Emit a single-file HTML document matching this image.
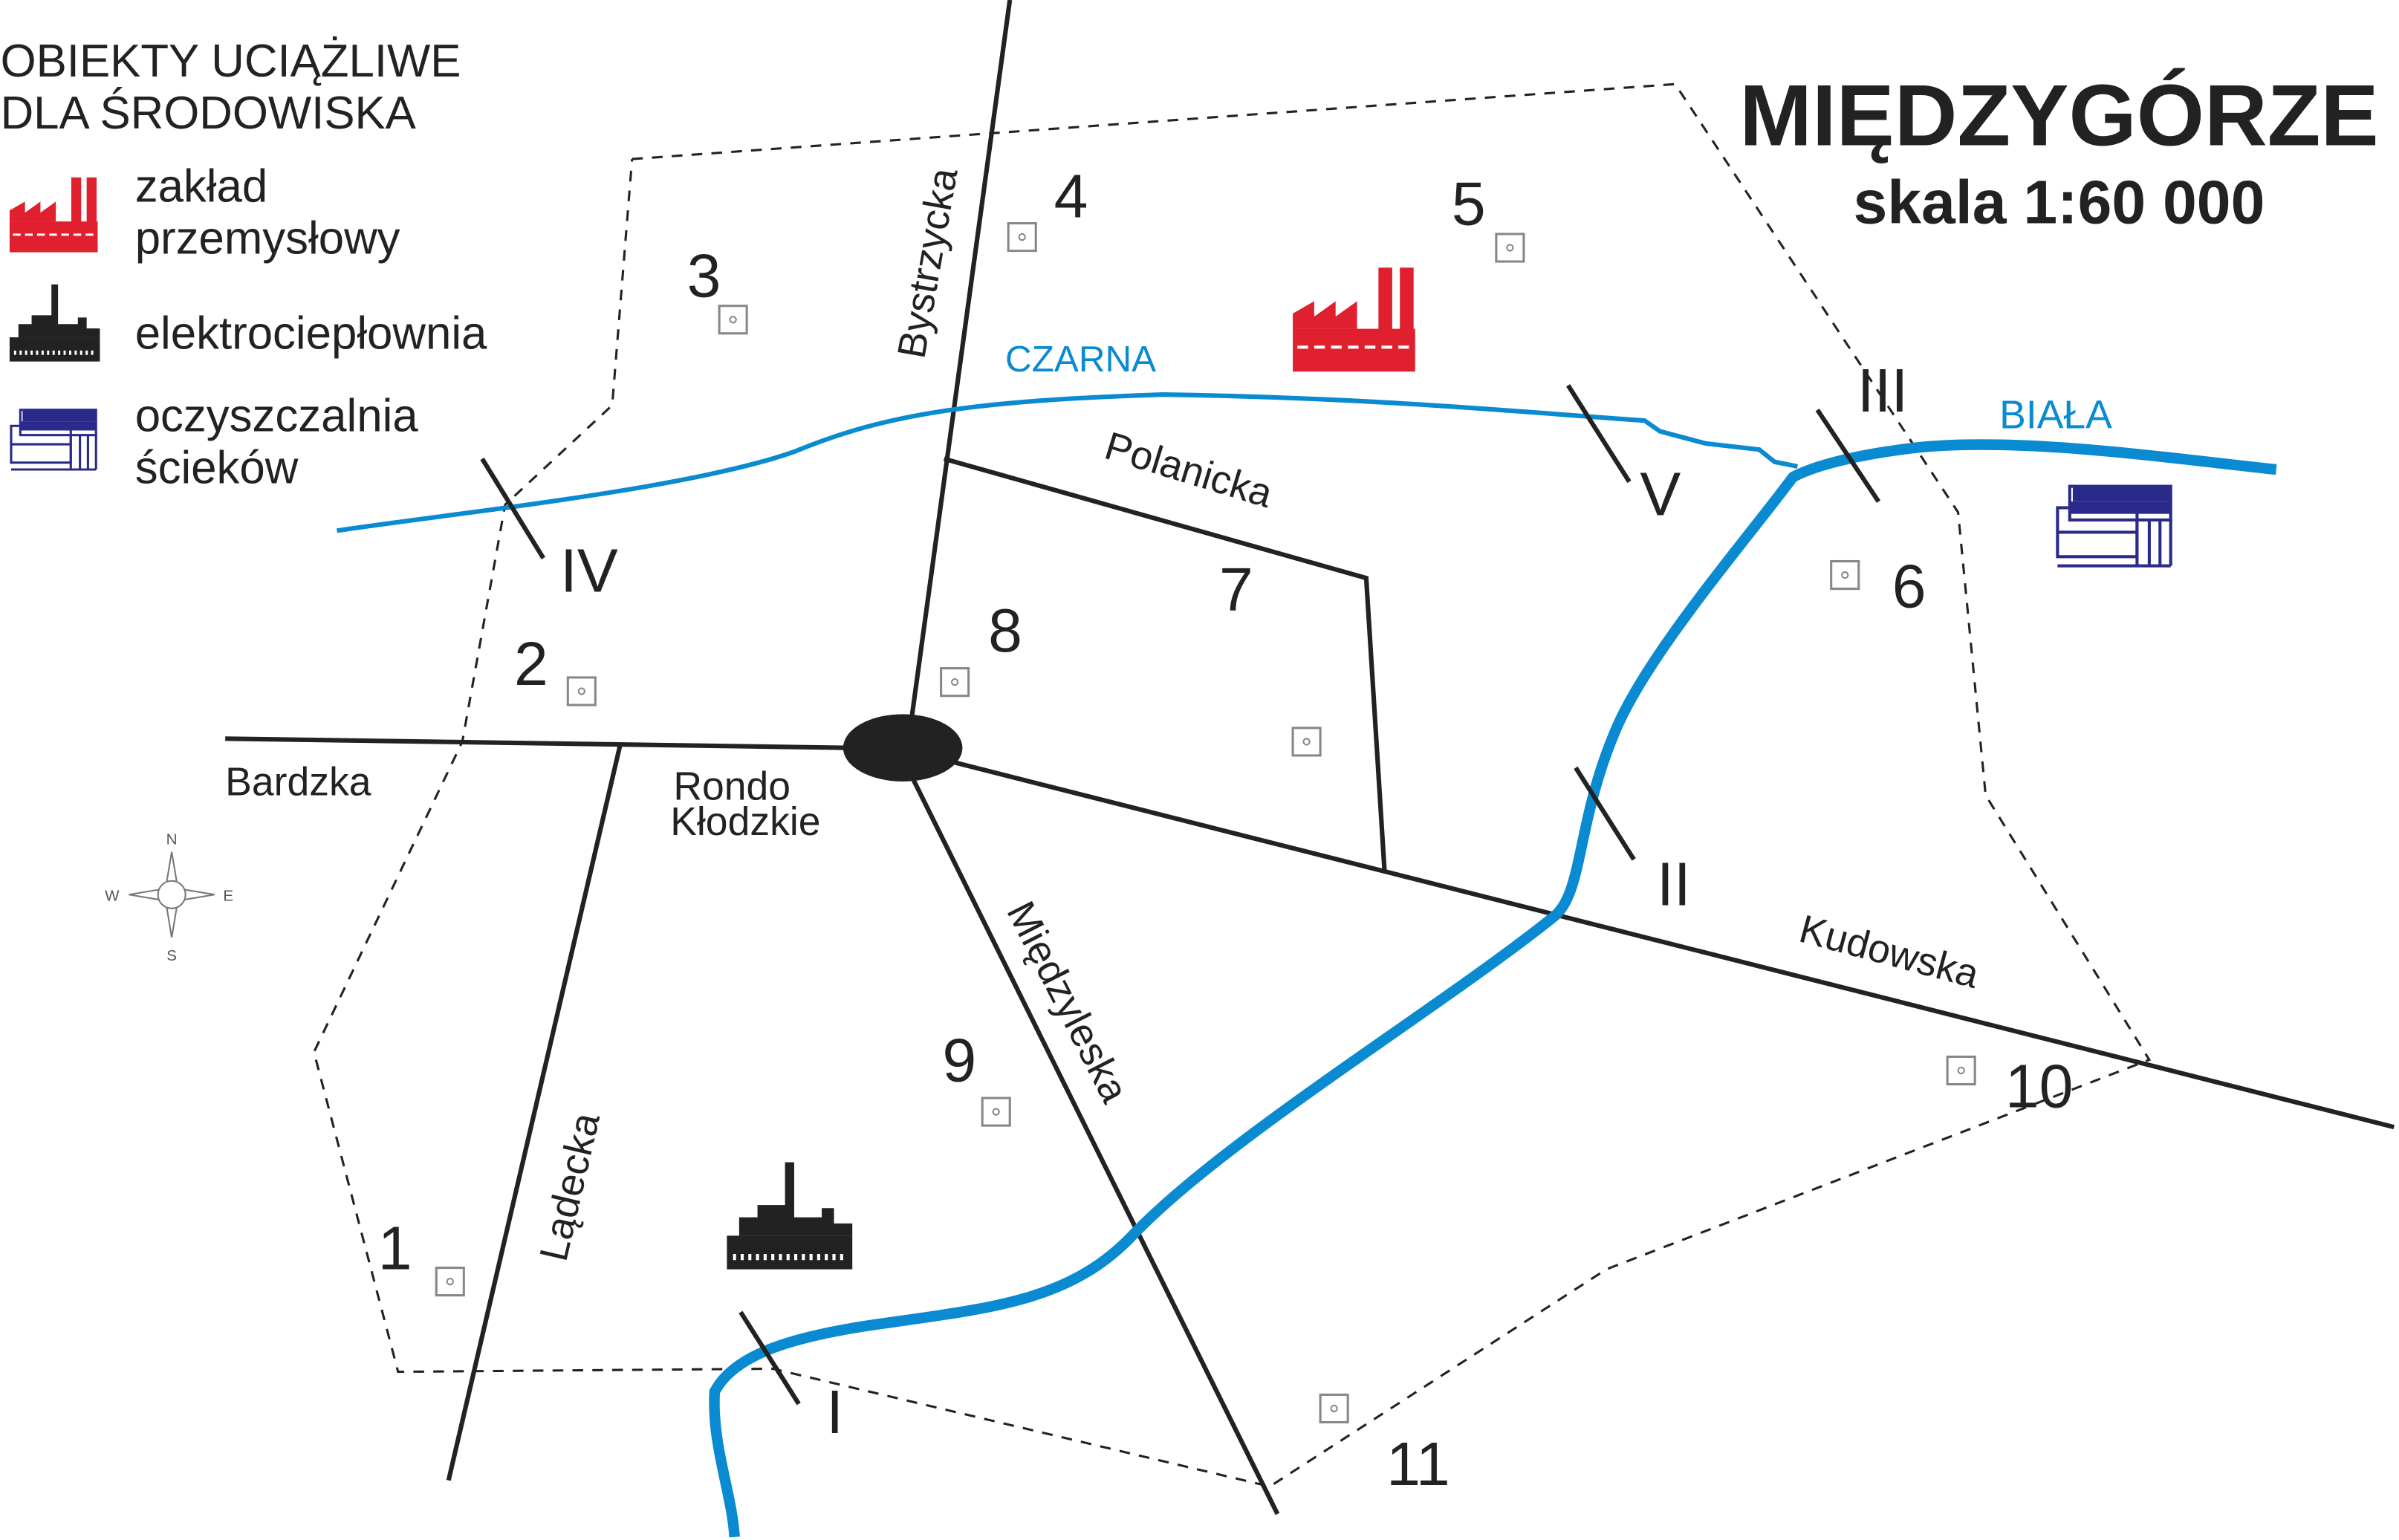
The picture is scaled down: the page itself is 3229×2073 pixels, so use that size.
<!DOCTYPE html>
<html><head><meta charset="utf-8"><style>
html,body{margin:0;padding:0;background:#fff}
svg{display:block}
text{font-family:"Liberation Sans",sans-serif}
</style></head><body>
<svg width="3229" height="2073" viewBox="0 0 1568 1007" xmlns="http://www.w3.org/2000/svg">
<defs>
<g id="sq"><rect x="-9" y="-9" width="18" height="18" fill="#fff" stroke="#888" stroke-width="1.5"/><circle r="2" fill="none" stroke="#888" stroke-width="1"/></g>
<g id="fac">
<rect x="0" y="40" width="80" height="28" fill="#e0202e"/>
<polygon points="0,40 0,30 14,22 14,32 28,22 28,32 42,22 42,40" fill="#e0202e"/>
<rect x="56" y="0" width="9" height="42" fill="#e0202e"/><rect x="70" y="0" width="9" height="42" fill="#e0202e"/>
<line x1="3" y1="52" x2="78" y2="52" stroke="#fff" stroke-width="2" stroke-dasharray="7 4"/>
</g>
<g id="plant">
<rect x="0" y="14" width="52" height="32" fill="#fff" stroke="#2a2a8a" stroke-width="2"/>
<rect x="10" y="0" width="64" height="10" fill="#2a2a8a"/>
<rect x="8" y="0" width="66" height="22" fill="none" stroke="#2a2a8a" stroke-width="2"/>
<rect x="8" y="10" width="66" height="8" fill="#2a2a8a"/>
<line x1="0" y1="30" x2="52" y2="30" stroke="#2a2a8a" stroke-width="2"/>
<line x1="52" y1="22" x2="52" y2="52" stroke="#2a2a8a" stroke-width="2"/>
<line x1="60" y1="22" x2="60" y2="52" stroke="#2a2a8a" stroke-width="2"/>
<line x1="67" y1="22" x2="67" y2="52" stroke="#2a2a8a" stroke-width="2"/>
<line x1="74" y1="22" x2="74" y2="52" stroke="#2a2a8a" stroke-width="2"/>
<line x1="0" y1="52" x2="74" y2="52" stroke="#2a2a8a" stroke-width="2"/>
</g>
<g id="pow">
<rect x="0" y="48" width="82" height="22" fill="#222"/>
<polygon points="8,48 8,36 20,36 20,28 38,28 38,0 44,0 44,28 44,36 62,36 62,30 70,30 70,40 82,40 82,48" fill="#222"/>
<line x1="4" y1="62" x2="78" y2="62" stroke="#fff" stroke-width="4" stroke-dasharray="2 3"/>
</g>
</defs>

<polyline points="413,104 1095,55 1280,335 1298,520 1405,693 1050,830 830,972 505,895 260,897 205,688 302,485 330,330 400,265 413,104" fill="none" stroke="#222" stroke-width="1.5" stroke-dasharray="7 6"/>

<g stroke="#222" stroke-width="3" fill="none">
<line x1="660" y1="0" x2="593" y2="490"/>
<line x1="147" y1="483" x2="555" y2="489"/>
<line x1="590" y1="490" x2="1565" y2="737"/>
<polyline points="617,300 893,378 905,570"/>
<line x1="405" y1="488" x2="293" y2="968"/>
<line x1="597" y1="510" x2="835" y2="990"/>
</g>
<ellipse cx="590" cy="489" rx="39" ry="22" fill="#222"/>

<path d="M220,347 C300,335 450,320 520,295 C580,270 640,262 760,258 C900,260 1000,270 1075,275 L1085,282 L1115,290 L1150,294 L1160,302 L1175,305" fill="none" stroke="#0a8ad0" stroke-width="3"/>
<path d="M1488,307 C1420,300 1320,285 1250,293 C1210,298 1185,305 1172,312 C1140,355 1075,430 1055,480 C1030,540 1035,585 1015,600 C940,660 800,745 740,808 C700,850 650,855 580,865 C520,873 480,885 467,910 C465,945 478,975 480,1005" fill="none" stroke="#0a8ad0" stroke-width="7"/>

<g stroke="#222" stroke-width="3">
<line x1="315" y1="300" x2="355" y2="365"/>
<line x1="1025" y1="252" x2="1065" y2="315"/>
<line x1="1188" y1="268" x2="1228" y2="328"/>
<line x1="1030" y1="502" x2="1068" y2="562"/>
<line x1="484" y1="858" x2="522" y2="918"/>
</g>
<g font-size="40" fill="#222">
<text x="366" y="387">IV</text>
<text x="1072" y="337">V</text>
<text x="1214" y="269">III</text>
<text x="1083" y="592">II</text>
<text x="540" y="937">I</text>
</g>

<use href="#sq" x="294" y="838"/><use href="#sq" x="380" y="452"/><use href="#sq" x="479" y="209"/>
<use href="#sq" x="668" y="155"/><use href="#sq" x="987" y="162"/><use href="#sq" x="1206" y="376"/>
<use href="#sq" x="854" y="485"/><use href="#sq" x="624" y="446"/><use href="#sq" x="651" y="727"/>
<use href="#sq" x="1282" y="700"/><use href="#sq" x="872" y="921"/>
<g font-size="40" fill="#222" text-anchor="middle">
<text x="258" y="830">1</text><text x="347" y="448">2</text><text x="460" y="194">3</text>
<text x="700" y="142">4</text><text x="960" y="147">5</text><text x="1248" y="397">6</text>
<text x="808" y="399">7</text><text x="657" y="426">8</text><text x="627" y="707">9</text>
<text x="1333" y="724">10</text><text x="927" y="971">11</text>
</g>

<g font-size="26" fill="#222">
<text x="147" y="520">Bardzka</text>
<text x="440" y="523">Rondo</text>
<text x="438" y="546">Kłodzkie</text>
<text transform="translate(606,172) rotate(-80)" text-anchor="middle" y="9">Bystrzycka</text>
<text transform="translate(777,307) rotate(17)" text-anchor="middle" y="9">Polanicka</text>
<text transform="translate(1235,622) rotate(15)" text-anchor="middle" y="9">Kudowska</text>
<text transform="translate(698,655) rotate(63)" text-anchor="middle" y="9">Międzyleska</text>
<text transform="translate(372,776) rotate(-77)" text-anchor="middle" y="9">Lądecka</text>
</g>
<text x="657" y="243" font-size="24" fill="#0a8ad0">CZARNA</text>
<text x="1307" y="280" font-size="26" fill="#0a8ad0">BIAŁA</text>

<text x="1346" y="95" font-size="57" font-weight="bold" fill="#222" text-anchor="middle">MIĘDZYGÓRZE</text>
<text x="1346" y="146" font-size="40" font-weight="bold" fill="#222" text-anchor="middle">skala 1:60 000</text>

<g font-size="30" fill="#222">
<text x="0" y="50" font-size="30">OBIEKTY UCIĄŻLIWE</text>
<text x="0" y="84" font-size="30">DLA ŚRODOWISKA</text>
<text x="88" y="132">zakład</text>
<text x="88" y="166">przemysłowy</text>
<text x="88" y="228">elektrociepłownia</text>
<text x="88" y="282">oczyszczalnia</text>
<text x="88" y="316">ścieków</text>
</g>
<use href="#fac" transform="translate(6,116) scale(0.72)"/>
<use href="#pow" transform="translate(6,186) scale(0.72)"/>
<use href="#plant" transform="translate(7,268) scale(0.75)"/>

<use href="#fac" x="845" y="175"/>
<use href="#pow" x="475" y="760"/>
<use href="#plant" x="1345" y="318"/>

<g stroke="#777" fill="#fff" stroke-width="1">
<polygon points="112,557 116,581 112,585 108,581"/>
<polygon points="112,613 116,589 112,585 108,589"/>
<polygon points="84,585 108,581 112,585 108,589"/>
<polygon points="140,585 116,581 112,585 116,589"/>
<circle cx="112" cy="585" r="9"/>
</g>
<g font-size="10" font-family="Liberation Serif" fill="#555" text-anchor="middle">
<text x="112" y="552">N</text><text x="112" y="628">S</text><text x="73" y="589">W</text><text x="149" y="589">E</text>
</g>
</svg>
</body></html>
